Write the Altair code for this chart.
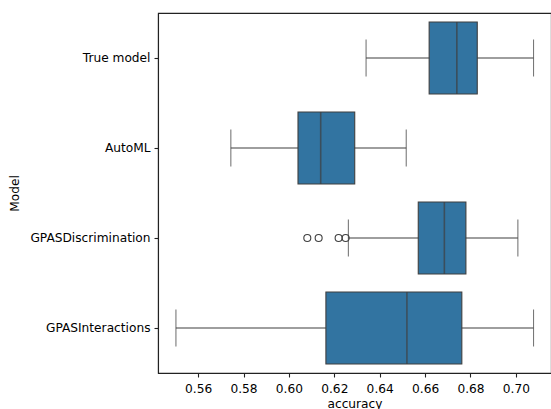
import altair as alt
import pandas as pd

models = ["True model", "AutoML", "GPASDiscrimination", "GPASInteractions"]
whisker_low = [0.6340, 0.5744, 0.6262, 0.5502]
q1 = [0.6618, 0.6040, 0.6570, 0.6163]
median = [0.6740, 0.6140, 0.6685, 0.6520]
q3 = [0.6830, 0.6290, 0.6780, 0.6762]
whisker_high = [0.7078, 0.6517, 0.7009, 0.7078]

outlier_models = ["GPASDiscrimination"] * 4
outlier_values = [0.6081, 0.6131, 0.6219, 0.6250]

stats = pd.DataFrame({
    "Model": models, "lo": whisker_low, "q1": q1, "med": median,
    "q3": q3, "hi": whisker_high,
})
outl = pd.DataFrame({"Model": outlier_models, "accuracy": outlier_values})

FONT = "DejaVu Sans"
LINE = "#3f3f3f"
FILL = "#3274a1"

xscale = alt.Scale(domain=[0.5423, 0.7155], nice=False, zero=False)
yscale = alt.Scale(domain=models, paddingInner=0, paddingOuter=0)

xaxis = alt.Axis(values=[0.56, 0.58, 0.60, 0.62, 0.64, 0.66, 0.68, 0.70],
                 format=".2f", title="accuracy", grid=False)
yaxis = alt.Axis(title="Model", grid=False)

base = alt.Chart(stats)

whisk = base.mark_rule(color=LINE, strokeWidth=1.1).encode(
    x=alt.X("lo:Q", scale=xscale, axis=xaxis),
    x2="hi:Q",
    y=alt.Y("Model:N", scale=yscale, axis=yaxis, sort=models),
)

box = base.mark_bar(size=72, fill=FILL, stroke=LINE, strokeWidth=1.1).encode(
    x=alt.X("q1:Q", scale=xscale, axis=xaxis),
    x2="q3:Q",
    y=alt.Y("Model:N", scale=yscale, axis=yaxis, sort=models),
)

med = base.mark_tick(orient="vertical", size=72, thickness=1.6, color=LINE).encode(
    x=alt.X("med:Q", scale=xscale, axis=xaxis),
    y=alt.Y("Model:N", scale=yscale, axis=yaxis, sort=models),
)

cap_lo = base.mark_tick(orient="vertical", size=37, thickness=1.1, color=LINE).encode(
    x=alt.X("lo:Q", scale=xscale, axis=xaxis),
    y=alt.Y("Model:N", scale=yscale, axis=yaxis, sort=models),
)
cap_hi = base.mark_tick(orient="vertical", size=37, thickness=1.1, color=LINE).encode(
    x=alt.X("hi:Q", scale=xscale, axis=xaxis),
    y=alt.Y("Model:N", scale=yscale, axis=yaxis, sort=models),
)

pts = alt.Chart(outl).mark_point(shape="circle", filled=False, size=49,
                                 color=LINE, strokeWidth=1.1, opacity=1).encode(
    x=alt.X("accuracy:Q", scale=xscale, axis=xaxis),
    y=alt.Y("Model:N", scale=yscale, axis=yaxis, sort=models),
)

chart = alt.layer(whisk, box, med, cap_lo, cap_hi, pts).properties(
    width=393, height=360,
    autosize=alt.AutoSizeParams(type="none"),
    padding={"left": 158, "top": 13, "right": 0, "bottom": 36},
).configure_view(
    stroke="#222222", strokeWidth=1.1,
).configure_axis(
    labelFont=FONT, titleFont=FONT, labelFontSize=12.2, titleFontSize=12.2,
    titleFontWeight="normal", labelColor="#000000", titleColor="#000000",
    domainColor="#222222", domainWidth=1.1, tickColor="#222222", tickWidth=1.1,
    tickSize=4,
).configure_axisX(titlePadding=3, labelPadding=5).configure_axisY(titlePadding=8, labelPadding=4)

chart.save("out.html", embed_options={"renderer": "svg", "actions": False})
